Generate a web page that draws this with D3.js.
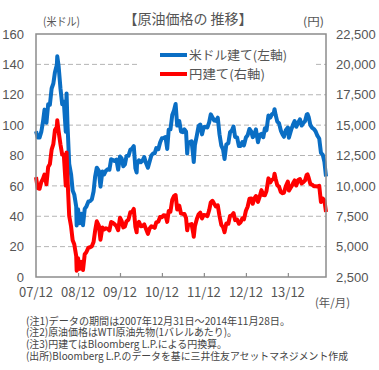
<!DOCTYPE html>
<html><head><meta charset="utf-8">
<script src="https://cdn.jsdelivr.net/npm/d3@7"></script>
<style>
html,body{margin:0;padding:0;background:#fff;}
svg{display:block;font-family:"Noto Sans CJK JP","Noto Sans",sans-serif;}
</style></head>
<body><svg id="c" width="379" height="370"></svg>
<script>
const dates = ["2007-12-31",
"2008-01-15","2008-01-31","2008-02-15","2008-02-29","2008-03-14","2008-03-31","2008-04-15","2008-04-30","2008-05-15","2008-05-30","2008-06-13","2008-06-30","2008-07-03","2008-07-15","2008-07-31","2008-08-15","2008-08-29","2008-09-15","2008-09-22","2008-09-30","2008-10-15","2008-10-31","2008-11-14","2008-11-28","2008-12-15","2008-12-19","2008-12-31",
"2009-01-15","2009-01-30","2009-02-12","2009-02-27","2009-03-13","2009-03-31","2009-04-15","2009-04-30","2009-05-15","2009-05-29","2009-06-12","2009-06-30","2009-07-14","2009-07-31","2009-08-14","2009-08-31","2009-09-15","2009-09-30","2009-10-15","2009-10-30","2009-11-13","2009-11-30","2009-12-15","2009-12-31",
"2010-01-15","2010-01-29","2010-02-12","2010-02-26","2010-03-15","2010-03-31","2010-04-15","2010-04-30","2010-05-14","2010-05-25","2010-05-28","2010-06-15","2010-06-30","2010-07-15","2010-07-30","2010-08-13","2010-08-31","2010-09-15","2010-09-30","2010-10-15","2010-10-29","2010-11-12","2010-11-30","2010-12-15","2010-12-31",
"2011-01-14","2011-01-31","2011-02-15","2011-02-28","2011-03-15","2011-03-31","2011-04-15","2011-04-29","2011-05-13","2011-05-31","2011-06-15","2011-06-30","2011-07-15","2011-07-29","2011-08-08","2011-08-15","2011-08-31","2011-09-15","2011-09-30","2011-10-04","2011-10-14","2011-10-31","2011-11-15","2011-11-30","2011-12-15","2011-12-30",
"2012-01-13","2012-01-31","2012-02-15","2012-02-29","2012-03-15","2012-03-30","2012-04-13","2012-04-30","2012-05-15","2012-05-31","2012-06-15","2012-06-28","2012-07-13","2012-07-31","2012-08-15","2012-08-31","2012-09-14","2012-09-28","2012-10-15","2012-10-31","2012-11-15","2012-11-30","2012-12-14","2012-12-31",
"2013-01-15","2013-01-31","2013-02-15","2013-02-28","2013-03-15","2013-03-28","2013-04-15","2013-04-30","2013-05-15","2013-05-31","2013-06-14","2013-06-28","2013-07-15","2013-07-31","2013-08-15","2013-08-30","2013-09-06","2013-09-16","2013-09-30","2013-10-15","2013-10-31","2013-11-15","2013-11-27","2013-12-13","2013-12-31",
"2014-01-09","2014-01-31","2014-02-14","2014-02-28","2014-03-14","2014-03-31","2014-04-15","2014-04-30","2014-05-15","2014-05-30","2014-06-13","2014-06-20","2014-06-30","2014-07-15","2014-07-31","2014-08-15","2014-08-29","2014-09-15","2014-09-30","2014-10-15","2014-10-31","2014-11-14","2014-11-28"];

const usdPrice = [96.0,
91.9,91.8,95.5,101.8,110.2,101.6,113.8,113.5,124.1,127.4,134.9,140.0,145.3,138.7,124.1,113.8,115.5,95.7,120.9,100.6,74.5,67.8,57.0,54.4,46.3,33.9,44.6,
35.4,41.7,34.0,44.8,46.3,49.7,50.0,51.1,56.3,66.3,72.0,69.9,59.5,69.5,67.5,70.0,71.0,70.6,77.6,77.0,76.4,77.3,70.7,79.4,
78.0,72.9,74.1,79.7,79.8,83.8,84.5,86.2,71.6,68.8,74.0,76.9,75.6,76.6,79.0,75.4,71.9,76.0,80.0,81.3,81.4,84.9,84.1,88.6,91.4,
91.5,92.2,84.3,97.0,97.2,106.7,109.7,113.9,99.7,102.7,95.8,95.4,97.2,95.7,81.3,87.9,88.8,89.4,79.2,75.7,86.8,93.2,99.4,100.4,93.9,98.8,
98.7,98.5,101.8,107.1,105.1,103.0,102.8,104.9,94.0,86.5,84.0,77.7,87.1,88.1,95.3,96.5,99.0,92.2,91.9,86.2,86.3,88.9,86.7,91.8,
93.3,97.5,95.9,92.1,93.5,97.2,88.7,93.5,94.3,92.0,97.9,96.6,106.3,105.0,107.3,107.7,110.5,106.6,102.3,101.2,96.4,93.8,92.3,96.6,98.4,
91.7,97.5,100.3,102.6,98.9,101.6,103.8,99.7,101.5,102.7,106.9,107.3,105.4,100.0,98.2,97.4,96.0,92.9,91.2,81.8,80.5,75.8,66.2];

const jpyPrice = [10723,
9815,9762,10324,10567,10932,10130,11562,11804,12981,13441,14596,14868,15402,14466,13403,12575,12566,10029,12755,10664,7525,6678,5529,5195,4213,3020,4045,
3168,3745,3082,4372,4537,4915,4948,5033,5377,6332,7085,6738,5563,6575,6413,6506,6461,6333,7023,6953,6856,6686,6349,7376,
7098,6583,6662,7093,7222,7827,7859,8103,6623,6178,6749,7036,6683,6703,6829,6484,6054,6498,6677,6622,6545,7004,7064,7442,7413,
7576,7560,7039,7935,7873,8856,9160,9249,8052,8370,7731,7689,7689,7350,6341,6751,6811,6857,6098,5814,6684,7270,7654,7791,7315,7608,
7590,7516,7991,8643,8776,8528,8317,8392,7537,6782,6619,6185,6898,6881,7529,7566,7762,7182,7238,6879,7008,7334,7239,7950,
8285,8941,8967,8524,8971,9166,8684,9116,9647,9243,9227,9583,10619,10280,10505,10571,10995,10575,10056,9938,9486,9399,9433,9969,10362,
9610,9945,10211,10445,10028,10485,10562,10199,10312,10455,10904,10945,10677,10146,10095,9969,9961,9950,10005,8671,8960,8808,7845];

const xTickDates = ["2007-12-31","2008-12-31","2009-12-31","2010-12-31","2011-12-31","2012-12-31","2013-12-31"];
const xTickLabels = ["07/12","08/12","09/12","10/12","11/12","12/12","13/12"];
const yLeftTicks = [0,20,40,60,80,100,120,140,160];
const yRightTicks = [2500,5000,7500,10000,12500,15000,17500,20000,22500];
const seriesNames = ["米ドル建て(左軸)","円建て(右軸)"];
const titleText = "【原油価格の 推移】";
const notes = ["(注1)データの期間は2007年12月31日～2014年11月28日。",
"(注2)原油価格はWTI原油先物(1バレルあたり)。",
"(注3)円建てはBloomberg L.P.による円換算。",
"(出所)Bloomberg L.P.のデータを基に三井住友アセットマネジメント作成"];

const parse = d3.timeParse("%Y-%m-%d");
const L = 36, R = 326, T = 34, B = 277;
const svg = d3.select("#c");
const textCol = "#555";

const x = d3.scaleTime().domain([parse(dates[0]), parse(dates[dates.length-1])]).range([L, R]);
const yL = d3.scaleLinear().domain([0,160]).range([B, T]);
const yR = d3.scaleLinear().domain([2500,22500]).range([B, T]);

// gridlines
svg.append("g").selectAll("line").data(yLeftTicks.filter(v=>v>0&&v<160)).join("line")
  .attr("x1", L).attr("x2", R).attr("y1", d=>yL(d)).attr("y2", d=>yL(d))
  .attr("stroke", "#b4b4b4").attr("stroke-width", 1).attr("stroke-dasharray", "5,3");

// legend background
svg.append("rect").attr("x", 137).attr("y", 42).attr("width", 179).attr("height", 44).attr("fill", "#fff");

// lines
const data = dates.map((d,i)=>({d: parse(d), u: usdPrice[i], j: jpyPrice[i]}));
svg.append("path").datum(data)
  .attr("d", d3.line().x(p=>x(p.d)).y(p=>yL(p.u)))
  .attr("fill","none").attr("stroke","#0a6ec4").attr("stroke-width",4).attr("stroke-linejoin","round");
svg.append("path").datum(data)
  .attr("d", d3.line().x(p=>x(p.d)).y(p=>yR(p.j)))
  .attr("fill","none").attr("stroke","#ff0000").attr("stroke-width",4).attr("stroke-linejoin","round");

// frame
svg.append("rect").attr("x", L).attr("y", T).attr("width", R-L).attr("height", B-T)
  .attr("fill","none").attr("stroke","#8c8c8c").attr("stroke-width",1.5);

// x ticks (inside)
const xTickG = svg.append("g").attr("transform", `translate(0,${B})`)
  .call(d3.axisBottom(x).tickValues(xTickDates.map(parse).slice(1)).tickSize(-4).tickFormat(""));
xTickG.select(".domain").remove();
xTickG.selectAll("line").attr("stroke","#8c8c8c").attr("stroke-width",1.2);

// x labels
svg.append("g").selectAll("text").data(xTickDates).join("text")
  .attr("x", (d)=>x(parse(d))).attr("y", 297).attr("text-anchor","middle")
  .attr("font-size", 13).attr("fill", textCol).text((d,i)=>xTickLabels[i]);

// y left labels
const yLG = svg.append("g").attr("transform", `translate(${L-12},0)`)
  .call(d3.axisLeft(yL).tickValues(yLeftTicks).tickSize(0).tickPadding(0));
yLG.select(".domain").remove();
yLG.selectAll("text").attr("font-size",13).attr("fill",textCol).attr("font-family","inherit");

// y right labels
const yRG = svg.append("g").attr("transform", `translate(${R+10},0)`)
  .call(d3.axisRight(yR).tickValues(yRightTicks).tickSize(0).tickPadding(0).tickFormat(d3.format(",")));
yRG.select(".domain").remove();
yRG.selectAll("text").attr("font-size",13).attr("fill",textCol).attr("font-family","inherit");

// title & units
svg.append("text").attr("x", 188).attr("y", 24).attr("text-anchor","middle")
  .attr("font-size", 14).attr("fill", textCol).text(titleText);
svg.append("text").attr("x", 43).attr("y", 26).attr("font-size", 11.5).attr("fill", textCol)
  .attr("textLength", 37).attr("lengthAdjust","spacingAndGlyphs").text("(米ドル)");
svg.append("text").attr("x", 303).attr("y", 26).attr("font-size", 11.5).attr("fill", textCol)
  .attr("textLength", 21).attr("lengthAdjust","spacingAndGlyphs").text("(円)");
svg.append("text").attr("x", 315).attr("y", 307).attr("font-size", 11.5).attr("fill", textCol)
  .attr("textLength", 35).attr("lengthAdjust","spacingAndGlyphs").text("(年/月)");

// legend
const legCols = ["#0a6ec4","#ff0000"];
const legLens = [98, 76];
const lg = svg.append("g");
seriesNames.forEach((n,i)=>{
  const yy = 55 + i*19;
  lg.append("line").attr("x1",160).attr("x2",187).attr("y1",yy).attr("y2",yy)
    .attr("stroke",legCols[i]).attr("stroke-width",4);
  lg.append("text").attr("x",189).attr("y",yy+4.5).attr("font-size",12.5).attr("fill",textCol)
    .attr("textLength", legLens[i]).attr("lengthAdjust","spacingAndGlyphs").text(n);
});

// notes
const noteLens = [264, 211, 201, 322];
svg.append("g").selectAll("text").data(notes).join("text")
  .attr("x", 26).attr("y", (d,i)=>324.5 + i*11.8)
  .attr("font-size", 10.5).attr("fill", "#444")
  .attr("textLength", (d,i)=>noteLens[i]).attr("lengthAdjust","spacingAndGlyphs").text(d=>d);
</script></body></html>
